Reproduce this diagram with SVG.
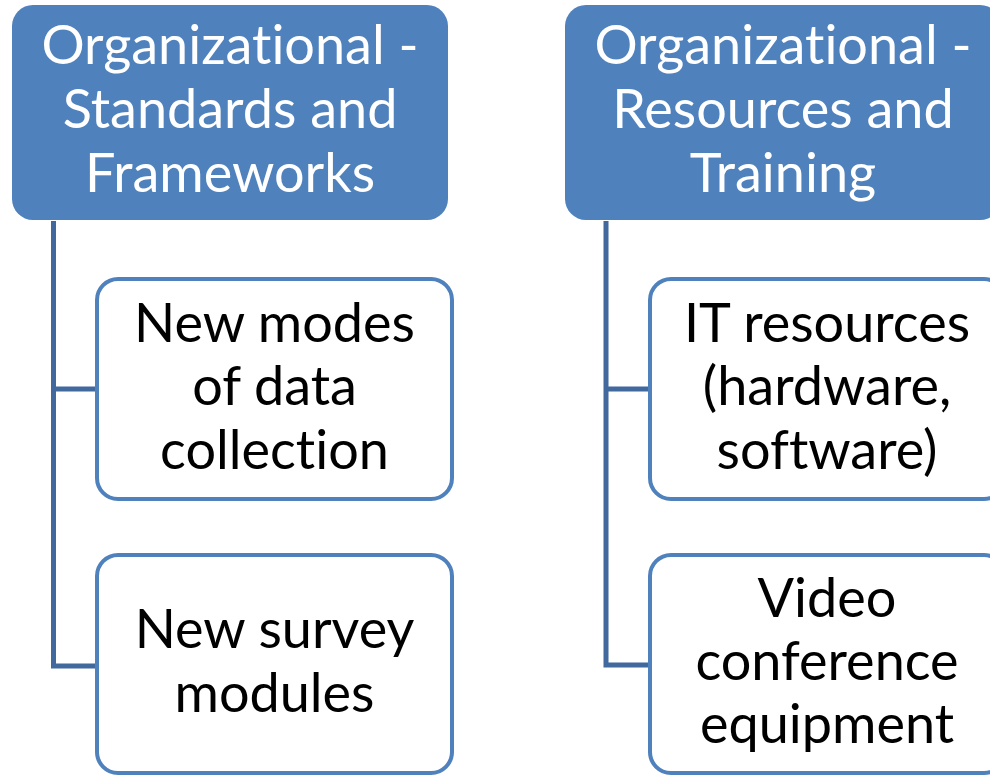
<svg xmlns="http://www.w3.org/2000/svg" width="990" height="775" viewBox="0 0 990 775">
<style>
.hdr{fill:#4F81BD;}
.child{fill:#FFFFFF;stroke:#4F81BD;stroke-width:4;}
.conn{fill:none;stroke:#41699D;stroke-width:5;}
.t{font-family:Lato,"Liberation Sans",sans-serif;font-size:54px;text-anchor:middle;font-variant-ligatures:none;font-feature-settings:"liga" 0;}
.tw{fill:#FFFFFF;}
.tb{fill:#000000;}
</style>
<rect width="990" height="775" fill="#FFFFFF"/>
<g id="connectors">
<path class="conn" d="M53.5,221 V666 H97"/>
<path class="conn" d="M53.5,389 H97"/>
<path class="conn" d="M606,221 V665 H650"/>
<path class="conn" d="M606,389 H650"/>
</g>
<g id="header-left">
<rect class="hdr" x="12" y="5" width="436" height="215" rx="21"/>
<text class="t tw" x="230" y="64">Organizational -</text>
<text class="t tw" x="230" y="128">Standards and</text>
<text class="t tw" x="230" y="192">Frameworks</text>
</g>
<g id="header-right">
<rect class="hdr" x="565" y="5" width="436" height="215" rx="21"/>
<text class="t tw" x="783" y="64">Organizational -</text>
<text class="t tw" x="783" y="128">Resources and</text>
<text class="t tw" x="783" y="192">Training</text>
</g>
<g id="child-data-collection">
<rect class="child" x="97" y="279" width="355" height="220" rx="21"/>
<text class="t tb" x="274.5" y="342">New modes</text>
<text class="t tb" x="274.5" y="405">of data</text>
<text class="t tb" x="274.5" y="469">collection</text>
</g>
<g id="child-survey-modules">
<rect class="child" x="97" y="555" width="355" height="218" rx="21"/>
<text class="t tb" x="274.5" y="648">New survey</text>
<text class="t tb" x="274.5" y="712">modules</text>
</g>
<g id="child-it-resources">
<rect class="child" x="650" y="279" width="355" height="220" rx="21"/>
<text class="t tb" x="827" y="342">IT resources</text>
<text class="t tb" x="827" y="405">(hardware,</text>
<text class="t tb" x="827" y="469">software)</text>
</g>
<g id="child-video-conference">
<rect class="child" x="650" y="555" width="355" height="218" rx="21"/>
<text class="t tb" x="827" y="617">Video</text>
<text class="t tb" x="827" y="680">conference</text>
<text class="t tb" x="827" y="743">equipment</text>
</g>
</svg>
